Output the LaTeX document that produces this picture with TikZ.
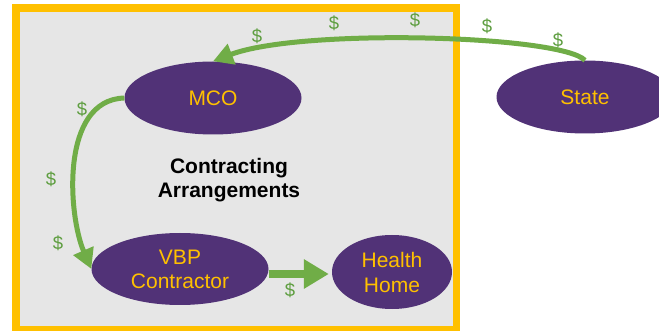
\documentclass[tikz,border=0pt]{standalone}
\usepackage{fontspec}
\setmainfont{Liberation Sans}
\usetikzlibrary{shapes.geometric,arrows.meta}
\definecolor{frameyellow}{HTML}{FFC000}
\definecolor{boxgray}{HTML}{E6E6E6}
\definecolor{nodepurple}{HTML}{513277}
\definecolor{flowgreen}{HTML}{70AD47}
\definecolor{moneygreen}{HTML}{5E9E40}
\tikzset{
  entity/.style={ellipse, fill=nodepurple, text=frameyellow, inner sep=0pt,
    align=center, font=\fontsize{21}{24}\selectfont},
  flow/.style={draw=flowgreen, line width=5pt,
    -{Triangle[length=20pt,width=21pt]}},
  money/.style={text=moneygreen, font=\fontsize{18.5}{20}\selectfont, inner sep=0pt},
}
\begin{document}
\begin{tikzpicture}[x=1pt,y=-1pt]
\useasboundingbox (0,0) rectangle (659,331);
\clip (0,0) rectangle (659,331);
\fill[white] (0,0) rectangle (659,331);
\draw[draw=frameyellow, fill=boxgray, line width=7.5pt] (15.75,8) rectangle (456.5,330);

\node[entity, minimum width=177pt, minimum height=73pt] (mco) at (213,98) {MCO};
\node[entity, minimum width=177pt, minimum height=73pt] (state) at (585,97) {State};
\node[entity, minimum width=177pt, minimum height=72pt] (vbp) at (180,269) {VBP\\Contractor};
\node[entity, minimum width=120pt, minimum height=74pt, font=\fontsize{21}{25}\selectfont] (hh) at (392,272) {Health\\Home};

\node[font=\bfseries\fontsize{21}{24}\selectfont, align=center] (lbl) at (229,180) {Contracting\\Arrangements};

\draw[flow] (state.north) .. controls (560,35) and (300,28) .. (mco.north);
\draw[flow] (mco.west) .. controls (60,100) and (68,215) .. (vbp.west);
\draw[flow, line width=8pt, -{Triangle[length=25pt,width=28pt]}] ([yshift=-5pt]vbp.east) -- ([yshift=-2pt,xshift=-3pt]hh.west);

\node[money] (d1) at (257,36) {\$};
\node[money] (d2) at (334,23) {\$};
\node[money] (d3) at (415,20) {\$};
\node[money] (d4) at (487,26) {\$};
\node[money] (d5) at (558,40) {\$};
\node[money] (d6) at (82,109) {\$};
\node[money] (d7) at (51,179) {\$};
\node[money] (d8) at (58,243) {\$};
\node[money] (d9) at (290,290) {\$};
\end{tikzpicture}
\end{document}
